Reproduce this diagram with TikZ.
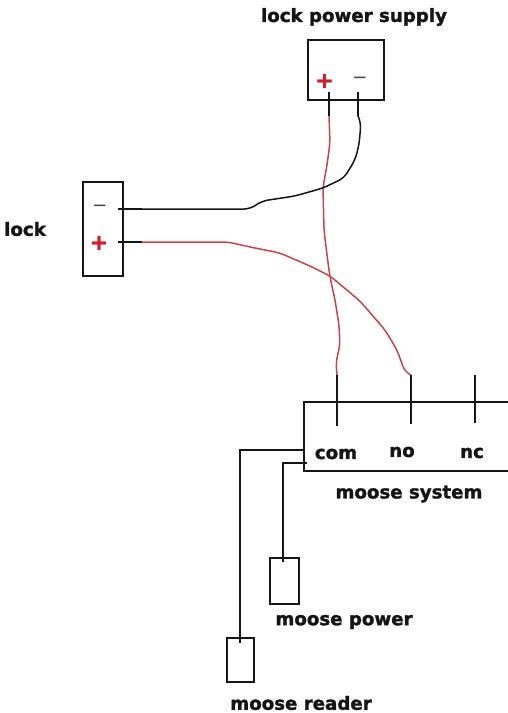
\documentclass[tikz,border=0pt]{standalone}
\usepackage{fontspec}
\setmainfont[BoldFeatures={FakeBold=1.6}]{DejaVu Sans}
\definecolor{wirered}{HTML}{C4454F}
\definecolor{signred}{HTML}{D0202F}
\definecolor{ink}{HTML}{151515}
\tikzset{
  unit/.style={draw=ink,line width=2.6pt,inner sep=0pt,outer sep=0pt,rectangle},
  lbl/.style={font=\fontsize{18.2}{20}\selectfont\bfseries,text=ink,inner sep=0pt},
  plussign/.style={font=\fontsize{22}{22}\selectfont\bfseries,text=signred,inner sep=0pt},
  minussign/.style={font=\fontsize{18}{18}\selectfont,text=ink!80,inner sep=0pt},
  stub/.style={draw=ink,line width=2.6pt},
  redwire/.style={draw=wirered,line width=1.5pt,line join=round,rounded corners=6pt},
  blackwire/.style={draw=ink,line width=1.5pt,line join=round,rounded corners=6pt}
}
\begin{document}
\begin{tikzpicture}[x=1pt,y=-1pt]
\useasboundingbox (0,0) rectangle (508,713);
% boxes
\node[unit,minimum width=76pt,minimum height=60pt] (supply) at (346,70) {};
\node[unit,minimum width=40pt,minimum height=94pt] (lock) at (103,229) {};
\node[unit,minimum width=206pt,minimum height=69pt] (moose) at (407,436.5) {};
\node[unit,minimum width=29pt,minimum height=46pt] (power) at (284.5,581) {};
\node[unit,minimum width=27pt,minimum height=44pt] (reader) at (240.5,660) {};
% labels
\node[lbl] (tsupply) at (354,17) {lock power supply};
\node[lbl] (tlock) at (25,229) {lock};
\node[lbl] (tcom) at (336,454) {com};
\node[lbl] (tno) at (402,452) {no};
\node[lbl] (tnc) at (472,453) {nc};
\node[lbl] (tmoose) at (409,494) {moose system};
\node[lbl] (tpower) at (344,622) {moose power};
\node[lbl] (treader) at (301,703) {moose reader};
% signs
\node[plussign] (sp) at (324.5,81) {+};
\node[minussign] (sm) at (360,80) {−};
\node[plussign] (lp) at (99,243) {+};
\node[minussign] (lm) at (100,208) {−};
% terminals
\coordinate (sPin) at (329,92);  \coordinate (sPout) at (329,116);
\coordinate (sMin) at (358,92);  \coordinate (sMout) at (358,116);
\coordinate (lMin) at (118,209); \coordinate (lMout) at (142,209);
\coordinate (lPin) at (118,242); \coordinate (lPout) at (142,242);
\coordinate (cIn) at (337,426);  \coordinate (cOut) at (337,375);
\coordinate (nIn) at (411,424);  \coordinate (nOut) at (411,375);
\coordinate (xIn) at (475,423);  \coordinate (xOut) at (475,375);
% wires
\draw[redwire] (sPout) -- (330,143) -- (327,165) -- (323,187) -- (324,230) -- (327,255) -- (330,277) -- (335,300) -- (339,325) -- (340,345) -- (336,362) -- (cOut);
\draw[redwire] (lPout) -- (228,242) -- (250,247) -- (280,253) -- (310,266) -- (330,276) -- (360,301) -- (385,330) -- (397,350) -- (405,372) -- (nOut);
\draw[blackwire] (sMout) -- (361,123) -- (359,145) -- (355,160) -- (344,178) -- (323,188) -- (295,196) -- (262,201) -- (250,209) -- (lMout);
\draw[stub] (sPin) -- (sPout);
\draw[stub] (sMin) -- (sMout);
\draw[stub] (lMin) -- (lMout);
\draw[stub] (lPin) -- (lPout);
\draw[stub] (cIn) -- (cOut);
\draw[stub] (nIn) -- (nOut);
\draw[stub] (xIn) -- (xOut);
% moose leads
\coordinate (rTop) at (240,450);
\coordinate (pTop) at (283,463);
\coordinate (mR) at (305,450);
\coordinate (mP) at (307,463);
\coordinate (rEnd) at (240,643);
\coordinate (pEnd) at (283,562);
\draw[stub] (mR) -- (rTop) -- (rEnd);
\draw[stub] (mP) -- (pTop) -- (pEnd);
\end{tikzpicture}
\end{document}
